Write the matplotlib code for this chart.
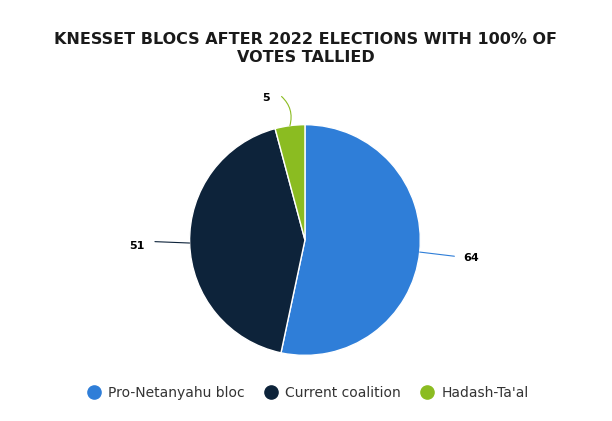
import numpy as np
import matplotlib
matplotlib.use('Agg')
import matplotlib.pyplot as plt
from matplotlib.lines import Line2D

# Data
labels = ['Pro-Netanyahu bloc', 'Current coalition', "Hadash-Ta'al"]
seats = [64, 51, 5]
colors = ['#2f7ed8', '#0d233a', '#8bbc21']

TITLE = 'KNESSET BLOCS AFTER 2022 ELECTIONS WITH 100% OF\nVOTES TALLIED'

fig = plt.figure(figsize=(6.12, 4.21), dpi=100)
fig.patch.set_facecolor('white')

# axes placed so the pie sits at the same spot as in the reference
ax = fig.add_axes([0.2533, 0.0736, 0.490, 0.7126])
wedges, _ = ax.pie(seats, colors=colors, startangle=90, counterclock=False,
                   radius=1.0, wedgeprops=dict(edgecolor='white', linewidth=1))
ax.set_xlim(-1.3, 1.3)
ax.set_ylim(-1.3, 1.3)
ax.set_aspect('equal')
ax.axis('off')

# label offsets (points) and connector curvature for each slice
offsets = [(25, -3), (-25, 1), (-6, 21)]
rads = [0.0, 0.0, -0.3]
text_pad = [(12, -1.5), (-13, -3), (-11, -1)]

for w, val, col, off, rad, pad in zip(wedges, seats, colors, offsets, rads, text_pad):
    ang = np.deg2rad((w.theta1 + w.theta2) / 2)
    x, y = np.cos(ang), np.sin(ang)
    ax.annotate('', xy=(x, y), xycoords='data',
                xytext=off, textcoords='offset points',
                arrowprops=dict(arrowstyle='-', color=col, lw=0.8,
                                shrinkA=0, shrinkB=0,
                                connectionstyle=f'arc3,rad={rad}'),
                annotation_clip=False)
    ax.annotate(str(val), xy=(x, y), xycoords='data',
                xytext=(off[0] + pad[0], off[1] + pad[1]), textcoords='offset points',
                ha='center', va='center', fontsize=8, fontweight='bold',
                color='black', annotation_clip=False)

fig.text(0.5, 0.885, TITLE, ha='center', va='center', fontsize=11.5,
         fontweight='bold', color='#1a1a1a', linespacing=1.25)

handles = [Line2D([0], [0], marker='o', linestyle='', markersize=9.5,
                  markerfacecolor=c, markeredgecolor=c) for c in colors]
fig.legend(handles, labels, loc='center', bbox_to_anchor=(0.5, 0.067),
           ncol=3, frameon=False, fontsize=10, handletextpad=0.3,
           columnspacing=1.1, handlelength=1.5, labelcolor='#333333')

plt.savefig('out.png', dpi=100)
